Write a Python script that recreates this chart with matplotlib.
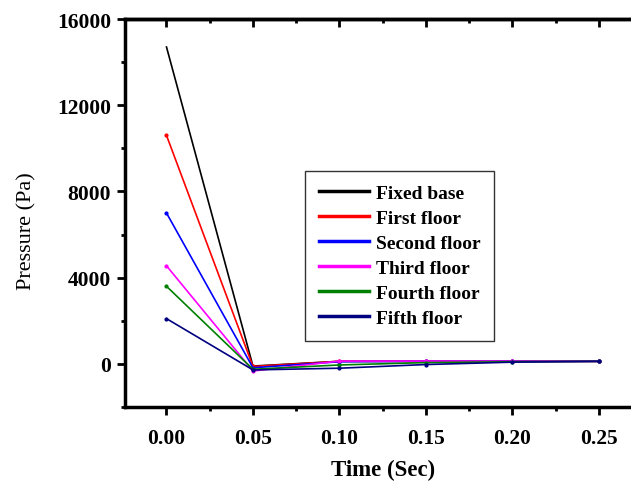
import numpy as np
import matplotlib
matplotlib.use("Agg")
import matplotlib.pyplot as plt
from matplotlib.ticker import MultipleLocator, FormatStrFormatter

plt.rcParams['font.family'] = ['Liberation Serif', 'DejaVu Serif']

time_sec = [0.00, 0.05, 0.10, 0.15, 0.20, 0.25]
fixed_base = [14700, -100, 120, 120, 120, 120]
first_floor = [10600, -120, 120, 120, 120, 120]
second_floor = [7000, -180, 100, 120, 120, 120]
third_floor = [4550, -330, 130, 130, 120, 120]
fourth_floor = [3600, -250, -50, 60, 100, 120]
fifth_floor = [2100, -280, -200, -30, 80, 120]

labels = ['Fixed base', 'First floor', 'Second floor', 'Third floor',
          'Fourth floor', 'Fifth floor']
colors = ['black', 'red', 'blue', 'magenta', 'green', 'navy']
series = [fixed_base, first_floor, second_floor, third_floor,
          fourth_floor, fifth_floor]

fig = plt.figure(figsize=(6.31, 4.85), dpi=100)
ax = fig.add_axes([125 / 631, (485 - 408) / 485, 517 / 631, 388 / 485])

for vals, lab, c in zip(series, labels, colors):
    mk = None if lab == 'Fixed base' else 'o'
    ax.plot(time_sec, vals, color=c, lw=1.2, marker=mk, ms=2.0, label=lab)

ax.set_xlim(-0.024, 0.275)
ax.set_ylim(-2000, 16000)
ax.xaxis.set_major_locator(MultipleLocator(0.05))
ax.xaxis.set_minor_locator(MultipleLocator(0.025))
ax.yaxis.set_major_locator(MultipleLocator(4000))
ax.yaxis.set_minor_locator(MultipleLocator(2000))
ax.xaxis.set_major_formatter(FormatStrFormatter('%.2f'))

ax.tick_params(axis='both', which='major', length=6, width=2, labelsize=15.5,
               right=False)
ax.tick_params(axis='both', which='minor', length=3, width=2, right=False)
for lbl in ax.get_xticklabels() + ax.get_yticklabels():
    lbl.set_fontweight('bold')
ax.tick_params(axis='x', pad=9)
ax.tick_params(axis='y', pad=4)

# inward ticks along the top edge
top = ax.secondary_xaxis('top')
top.xaxis.set_major_locator(MultipleLocator(0.05))
top.xaxis.set_minor_locator(MultipleLocator(0.025))
top.tick_params(which='major', direction='in', length=6, width=2, labeltop=False)
top.tick_params(which='minor', direction='in', length=3, width=2)
top.spines['top'].set_linewidth(2.5)

for s in ax.spines.values():
    s.set_linewidth(2.5)

ax.set_xlabel('Time (Sec)', fontsize=16.5, fontweight='bold', labelpad=8)
ax.set_ylabel('Pressure (Pa)', fontsize=16, va='center')
ax.yaxis.set_label_coords(-0.19, 0.455)

leg = ax.legend(loc='upper left',
                bbox_to_anchor=((305 - 125) / 517, (408 - 172) / 388),
                prop={'weight': 'bold', 'size': 14},
                fancybox=False, edgecolor='black', handlelength=2.6,
                borderpad=0.7, labelspacing=0.38, handletextpad=0.35,
                borderaxespad=0)
leg.get_frame().set_linewidth(1.0)
for h in leg.get_lines():
    h.set_linewidth(2.5)
    h.set_marker('')

fig.savefig('out.png', dpi=100)
